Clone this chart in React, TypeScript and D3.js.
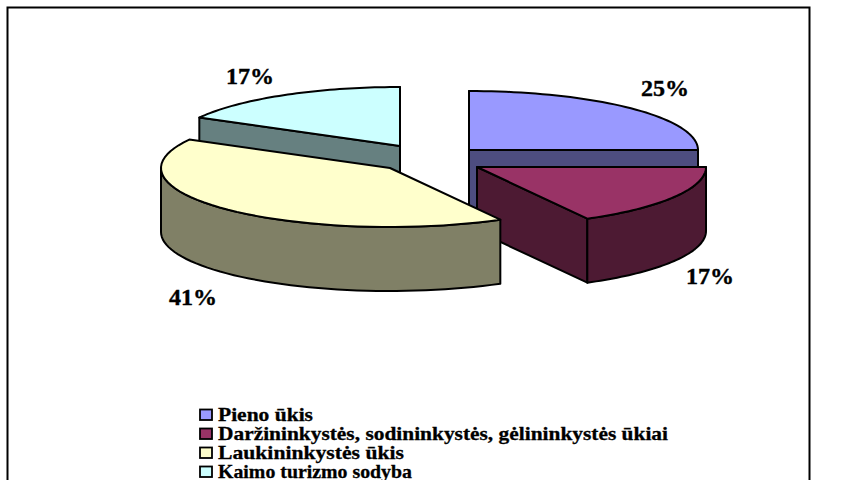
import React from 'react';
import * as d3 from 'd3';

const categories = ['Pieno ūkis', 'Daržininkystės, sodininkystės, gėlininkystės ūkiai', 'Laukininkystės ūkis', 'Kaimo turizmo sodyba'];
const values = [25, 17, 41, 17];
const labels = ['25%', '17%', '41%', '17%'];
const topColors = ['#9999ff', '#993366', '#ffffcc', '#ccffff'];
const sideColors = ['#4d4d80', '#4d1a33', '#808066', '#668080'];
const centers: [number, number][] = [[469, 150], [477, 167], [390, 168], [400, 146]];
const labelPos: [number, number][] = [[665, 96], [710, 284], [193, 305], [250, 84]];
const legendWidths = [95, 450, 186, 194];

const RX = 229, RY = 59, DEPTH = 64;
const pie = d3.pie<number>().sort(null)(values);
const line = d3.line();

function pt(c: [number, number], a: number, dy = 0): [number, number] {
  return [c[0] + RX * Math.sin(a), c[1] - RY * Math.cos(a) + dy];
}
function rim(c: [number, number], a0: number, a1: number, dy = 0): [number, number][] {
  const n = 48;
  return d3.range(n + 1).map(i => pt(c, a0 + ((a1 - a0) * i) / n, dy));
}
function top(c: [number, number], a0: number, a1: number) {
  return line([c, ...rim(c, a0, a1)]) + 'Z';
}
function outer(c: [number, number], a0: number, a1: number) {
  return line([...rim(c, a0, a1), ...rim(c, a1, a0, DEPTH)]) + 'Z';
}
function radial(c: [number, number], a: number) {
  const p = pt(c, a);
  return line([c, p, [p[0], p[1] + DEPTH], [c[0], c[1] + DEPTH]]) + 'Z';
}

const sw = { stroke: '#000', strokeWidth: 2, strokeLinejoin: 'round' as const };
const font = "'Liberation Serif','Times New Roman',serif";

export default function App() {
  const [a, b, c, d] = pie;
  return (
    <svg width={841} height={480} style={{ position: 'absolute', left: 0, top: 0, background: '#fff' }}>
      <rect x={7.5} y={7.5} width={802} height={480} fill="#fff" stroke="#000" strokeWidth={2} />
      {/* Kaimo turizmo sodyba */}
      <path d={radial(centers[3], d.startAngle)} fill={sideColors[3]} {...sw} />
      <path d={radial(centers[3], d.endAngle)} fill={sideColors[3]} {...sw} />
      <path d={top(centers[3], d.startAngle, d.endAngle)} fill={topColors[3]} {...sw} />
      {/* Pieno ūkis */}
      <path d={radial(centers[0], a.startAngle)} fill={sideColors[0]} {...sw} />
      <path d={radial(centers[0], a.endAngle)} fill={sideColors[0]} {...sw} />
      <path d={top(centers[0], a.startAngle, a.endAngle)} fill={topColors[0]} {...sw} />
      {/* Daržininkystės */}
      <path d={radial(centers[1], b.endAngle)} fill={sideColors[1]} {...sw} />
      <path d={outer(centers[1], b.startAngle, b.endAngle)} fill={sideColors[1]} {...sw} />
      <path d={top(centers[1], b.startAngle, b.endAngle)} fill={topColors[1]} {...sw} />
      {/* Laukininkystės */}
      <path d={outer(centers[2], c.startAngle, 1.5 * Math.PI)} fill={sideColors[2]} {...sw} />
      <path d={top(centers[2], c.startAngle, c.endAngle)} fill={topColors[2]} {...sw} />
      {labels.map((t, i) => (
        <text key={i} x={labelPos[i][0]} y={labelPos[i][1]} textAnchor="middle" fontFamily={font} fontWeight="bold" fontSize={24} fill="#000" stroke="#000" strokeWidth={0.4}>{t}</text>
      ))}
      {categories.map((t, i) => {
        const y = 420.5 + i * 19;
        return (
          <g key={t}>
            <rect x={200} y={y - 11} width={12} height={10.5} fill={topColors[i]} stroke="#000" strokeWidth={1.8} />
            <text x={218} y={y} fontFamily={font} fontWeight="bold" fontSize={19} fill="#000" stroke="#000" strokeWidth={0.3} textLength={legendWidths[i]} lengthAdjust="spacingAndGlyphs">{t}</text>
          </g>
        );
      })}
    </svg>
  );
}
